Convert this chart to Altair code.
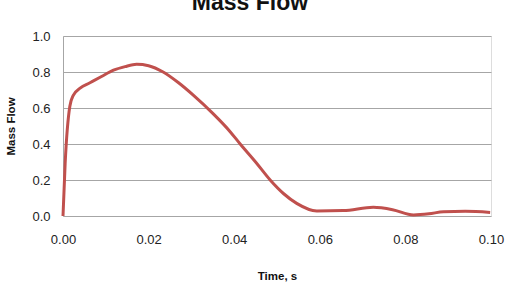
import altair as alt
import pandas as pd

time_s = [0.0, 0.0005, 0.0016, 0.0024, 0.004, 0.0063, 0.009, 0.0118, 0.0145, 0.0172,
          0.020, 0.0234, 0.027, 0.0305, 0.035, 0.039, 0.0414, 0.045, 0.0484, 0.0515,
          0.0546, 0.0593, 0.0655, 0.0725, 0.077, 0.0819, 0.0855, 0.0889, 0.094, 0.0998]
mass_flow = [0.0, 0.29, 0.61, 0.67, 0.71, 0.74, 0.775, 0.81, 0.83, 0.843,
             0.835, 0.80, 0.74, 0.67, 0.57, 0.47, 0.40, 0.30, 0.20, 0.125,
             0.07, 0.028, 0.03, 0.048, 0.035, 0.006, 0.012, 0.024, 0.026, 0.02]

df = pd.DataFrame({"t": time_s, "m": mass_flow})

FONT = "Liberation Sans"

chart = alt.Chart(df).mark_line(
    color="#C0504D", strokeWidth=3, interpolate="monotone"
).encode(
    x=alt.X("t:Q", title="Time, s",
            scale=alt.Scale(domain=[0, 0.1], nice=False),
            axis=alt.Axis(values=[0, 0.02, 0.04, 0.06, 0.08, 0.1], format=".2f",
                          grid=False, ticks=False, domain=False, labelFlush=False,
                          labelFont=FONT, labelFontSize=13, labelColor="#222",
                          labelPadding=17, titleFont=FONT, titleFontSize=11.5,
                          titleFontWeight="bold", titleColor="#111", titlePadding=24)),
    y=alt.Y("m:Q", title="Mass Flow",
            scale=alt.Scale(domain=[0, 1], nice=False),
            axis=alt.Axis(values=[0, 0.2, 0.4, 0.6, 0.8, 1.0], format=".1f",
                          grid=True, gridColor="#A6A6A6", gridWidth=1, labelFlush=False,
                          ticks=False, domain=True, domainColor="#A6A6A6",
                          labelFont=FONT, labelFontSize=13, labelColor="#222",
                          labelPadding=13, titleFont=FONT, titleFontSize=11.5,
                          titleFontWeight="bold", titleColor="#111", titlePadding=15)),
).properties(
    width=428, height=180,
    title=alt.TitleParams("Mass Flow", font=FONT, fontSize=23, fontWeight="bold",
                          color="#111", anchor="middle", frame="group", dx=-27,
                          offset=15),
    padding={"left": 63, "top": 36, "right": 18, "bottom": 73},
    autosize=alt.AutoSizeParams(type="none"),
).configure_view(stroke=None).configure(background="white")

chart.save("out.html", embed_options={"renderer": "svg", "actions": False})
